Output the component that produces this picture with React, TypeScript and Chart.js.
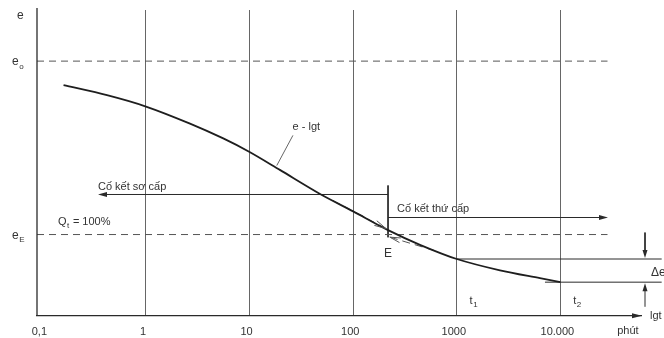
import React, { useEffect, useRef } from "react";
import { Chart, registerables } from "chart.js";

Chart.register(...registerables);

// ---- data ----
const curveTime = [0.16, 0.42, 1, 2.66, 5.57, 10, 19.6, 47.9, 100, 217, 441, 1000, 2612, 6350, 10000];
const curveVoid = [0.928, 0.905, 0.879, 0.84, 0.806, 0.775, 0.734, 0.679, 0.639, 0.596, 0.5625, 0.53, 0.504, 0.486, 0.477];

const tickValues = [0.1, 1, 10, 100, 1000, 10000];
const tickLabels = ["0,1", "1", "10", "100", "1000", "10.000"];

const e0 = 0.983;
const eE = 0.586;
const tE = 217;
const t1 = 1000;
const e1 = 0.53;
const e2 = 0.477;

const primaryTangentT = [63.8, 207];
const primaryTangentE = [0.664, 0.5997];
const secondaryTangentT = [226, 644];
const secondaryTangentE = [0.58, 0.5476];

const xMin = 0.0887;
const xMax = 60000;
const yMin = 0.4;
const yMax = 1.1;

const FONT = "'Liberation Sans', Arial, sans-serif";
const INK = "#2a2a2a";
const GRID = "#666";
const DASH = "#555";

const pts = (ts: number[], es: number[]) => ts.map((t, i) => ({ x: t, y: es[i] }));

function line(data: { x: number; y: number }[], extra: any = {}) {
  return {
    data,
    showLine: true,
    pointRadius: 0,
    borderColor: INK,
    borderWidth: 1,
    fill: false,
    clip: false,
    ...extra,
  };
}

function filledHead(ctx: CanvasRenderingContext2D, x1: number, y1: number, x2: number, y2: number, len: number, half: number) {
  const a = Math.atan2(y2 - y1, x2 - x1);
  ctx.beginPath();
  ctx.moveTo(x2, y2);
  ctx.lineTo(x2 - len * Math.cos(a) + half * Math.sin(a), y2 - len * Math.sin(a) - half * Math.cos(a));
  ctx.lineTo(x2 - len * Math.cos(a) - half * Math.sin(a), y2 - len * Math.sin(a) + half * Math.cos(a));
  ctx.closePath();
  ctx.fill();
}

function openHead(ctx: CanvasRenderingContext2D, x1: number, y1: number, x2: number, y2: number, len: number, ang: number) {
  const a = Math.atan2(y2 - y1, x2 - x1);
  ctx.beginPath();
  ctx.moveTo(x2 - len * Math.cos(a - ang), y2 - len * Math.sin(a - ang));
  ctx.lineTo(x2, y2);
  ctx.lineTo(x2 - len * Math.cos(a + ang), y2 - len * Math.sin(a + ang));
  ctx.stroke();
}

function subText(ctx: CanvasRenderingContext2D, main: string, sub: string, rest: string, x: number, y: number, size: number) {
  ctx.font = `${size}px ${FONT}`;
  ctx.textAlign = "left";
  ctx.textBaseline = "middle";
  ctx.fillText(main, x, y);
  const w = ctx.measureText(main).width;
  ctx.font = `${Math.round(size * 0.7)}px ${FONT}`;
  ctx.fillText(sub, x + w + 0.5, y + size * 0.35);
  const ws = ctx.measureText(sub).width;
  if (rest) {
    ctx.font = `${size}px ${FONT}`;
    ctx.fillText(rest, x + w + ws + 1, y);
  }
}

const annotations = {
  id: "annotations",
  afterDatasetsDraw(chart: any) {
    const { ctx, chartArea } = chart;
    const xs = chart.scales.x;
    const ys = chart.scales.y;
    const X = (t: number) => xs.getPixelForValue(t);
    const Y = (v: number) => ys.getPixelForValue(v);
    ctx.save();
    ctx.fillStyle = INK;
    ctx.strokeStyle = INK;

    // y axis
    ctx.lineWidth = 1.3;
    ctx.beginPath();
    ctx.moveTo(chartArea.left, chartArea.top - 2);
    ctx.lineTo(chartArea.left, chartArea.bottom);
    ctx.stroke();
    // x axis arrow head
    filledHead(ctx, chartArea.left, chartArea.bottom, chartArea.right + 1, chartArea.bottom, 10, 2.5);

    // arrows of the consolidation lines
    filledHead(ctx, X(tE), Y(0.6777), X(0.344), Y(0.6777), 9, 2.5);
    filledHead(ctx, X(tE), Y(0.625), X(28800), Y(0.625), 9, 2.5);

    // delta e arrows
    filledHead(ctx, X(65600), Y(0.5905), X(65600), Y(e1) - 1, 8, 2.5);
    filledHead(ctx, X(65600), Y(0.4206), X(65600), Y(e2) + 1, 8, 2.5);

    // tangent arrow heads at E
    ctx.lineWidth = 1;
    ctx.strokeStyle = DASH;
    openHead(ctx, X(primaryTangentT[0]), Y(primaryTangentE[0]), X(primaryTangentT[1]), Y(primaryTangentE[1]), 12, 0.22);
    openHead(ctx, X(secondaryTangentT[1]), Y(secondaryTangentE[1]), X(secondaryTangentT[0]), Y(secondaryTangentE[0]), 11, 0.22);

    // texts
    ctx.fillStyle = "#333";
    ctx.font = `12px ${FONT}`;
    ctx.textBaseline = "middle";
    ctx.textAlign = "left";
    ctx.fillText("e", chartArea.left - 20, Y(1.088));
    subText(ctx, "e", "o", "", chartArea.left - 25, Y(e0) + 1, 12);
    subText(ctx, "e", "E", "", chartArea.left - 25, Y(eE) + 1, 12);

    ctx.font = `11px ${FONT}`;
    ctx.fillText("Cố kết sơ cấp", X(0.344), Y(0.6945));
    ctx.fillText("Cố kết thứ cấp", X(265), Y(0.6455));
    ctx.fillText("e - lgt", X(26), Y(0.8315));
    subText(ctx, "Q", "t", " = 100%", X(0.1416), Y(0.6157), 11);
    ctx.textAlign = "center";
    ctx.font = `12px ${FONT}`;
    ctx.fillText("E", X(tE), Y(0.5423));
    ctx.textAlign = "left";
    subText(ctx, "t", "1", "", X(1330), Y(0.4344), 11);
    subText(ctx, "t", "2", "", X(13300), Y(0.4344), 11);
    ctx.font = `12px ${FONT}`;
    ctx.fillText("Δe", X(75000), Y(0.4993));
    ctx.font = `11px ${FONT}`;
    ctx.fillText("lgt", X(73300), Y(yMin));
    ctx.textAlign = "center";
    ctx.fillText("phút", X(44900), Y(0.3655));
    ctx.restore();
  },
};

export default function App() {
  const ref = useRef<HTMLCanvasElement>(null);
  useEffect(() => {
    const chart = new Chart(ref.current!, {
      type: "scatter",
      data: {
        datasets: [
          line(pts(curveTime, curveVoid), { borderWidth: 1.8, tension: 0.3, borderColor: "#1e1e1e" }),
          line([{ x: xMin, y: e0 }, { x: 28500, y: e0 }], { borderDash: [7, 5], borderColor: DASH }),
          line([{ x: xMin, y: eE }, { x: 28500, y: eE }], { borderDash: [7, 5], borderColor: DASH }),
          line(pts(primaryTangentT, primaryTangentE), { borderDash: [8, 5], borderColor: DASH }),
          line(pts(secondaryTangentT, secondaryTangentE), { borderDash: [8, 5], borderColor: DASH }),
          line([{ x: tE, y: 0.6777 }, { x: 0.36, y: 0.6777 }]),
          line([{ x: tE, y: 0.625 }, { x: 27000, y: 0.625 }]),
          line([{ x: tE, y: 0.6983 }, { x: tE, y: 0.5797 }]),
          line([{ x: t1, y: e1 }, { x: 95000, y: e1 }]),
          line([{ x: 7100, y: e2 }, { x: 95000, y: e2 }]),
          line([{ x: 65600, y: 0.5905 }, { x: 65600, y: e1 + 0.01 }]),
          line([{ x: 65600, y: 0.4206 }, { x: 65600, y: e2 - 0.01 }]),
          line([{ x: 18.3, y: 0.744 }, { x: 26.2, y: 0.813 }], { borderColor: "#666" }),
        ],
      },
      options: {
        responsive: false,
        animation: false,
        events: [],
        layout: { padding: { left: 37, right: 23, top: 10, bottom: 2 } },
        plugins: { legend: { display: false }, tooltip: { enabled: false } },
        scales: {
          x: {
            type: "logarithmic",
            min: xMin,
            max: xMax,
            afterBuildTicks: (scale: any) => {
              scale.ticks = tickValues.map((v) => ({ value: v }));
            },
            ticks: {
              autoSkip: false,
              maxRotation: 0,
              padding: 10,
              labelOffset: -3,
              color: "#333",
              font: { family: FONT, size: 11 },
              callback: (_v: any, i: number) => tickLabels[i],
            },
            grid: {
              color: (c: any) => (c.tick && c.tick.value === 0.1 ? "rgba(0,0,0,0)" : GRID),
              lineWidth: 1,
              drawTicks: false,
            },
            border: { display: true, color: INK, width: 1.3 },
          },
          y: { type: "linear", display: false, min: yMin, max: yMax },
        },
      },
      plugins: [annotations],
    } as any);
    return () => chart.destroy();
  }, []);
  return (
    <div style={{ position: "fixed", left: 0, top: 0, width: 664, height: 338, overflow: "hidden", background: "#fff" }}>
      <canvas ref={ref} width={664} height={351} style={{ display: "block" }} />
    </div>
  );
}
